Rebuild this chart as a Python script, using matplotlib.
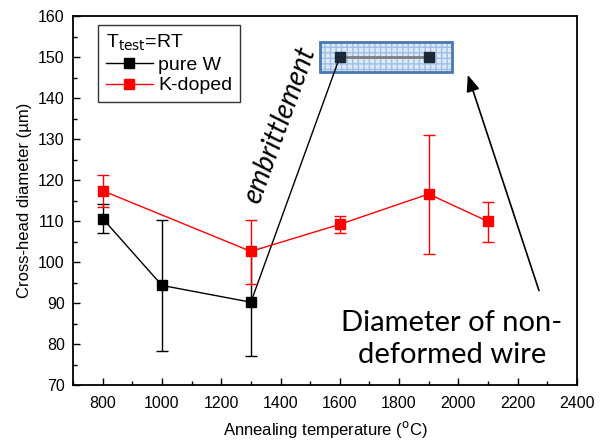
import matplotlib
matplotlib.use("Agg")
import matplotlib.pyplot as plt
from matplotlib.patches import Rectangle
from matplotlib.lines import Line2D
import numpy as np

plt.rcParams['font.family'] = ['Liberation Sans', 'DejaVu Sans']

# pure W
w_temp = [800, 1000, 1300]
w_diam = [110.6, 94.3, 90.2]
w_low = [107.1, 78.3, 77.2]
w_high = [114.2, 110.2, 103.2]

# K-doped W
k_temp = [800, 1300, 1600, 1900, 2100]
k_diam = [117.4, 102.6, 109.2, 116.6, 109.9]
k_low = [113.5, 94.6, 107.1, 101.9, 105.0]
k_high = [121.3, 110.3, 111.3, 131.1, 114.7]

# non-deformed wire diameter
ref_temp = [1600, 1900]
ref_diam = [150, 150]

fig = plt.figure(figsize=(6.02, 4.45), dpi=100)
ax = fig.add_axes([0.1213, 0.1348, 0.837, 0.829])

w_err = [np.array(w_diam) - np.array(w_low), np.array(w_high) - np.array(w_diam)]
k_err = [np.array(k_diam) - np.array(k_low), np.array(k_high) - np.array(k_diam)]

ax.errorbar(w_temp, w_diam, yerr=w_err, color='black', lw=1, marker='s', ms=7,
            capsize=4, elinewidth=1, capthick=1, zorder=3)
ax.errorbar(k_temp, k_diam, yerr=k_err, color='red', lw=1, marker='s', ms=7,
            capsize=4, elinewidth=1, capthick=1, zorder=4)

# inset box for the original wire diameter
ax.add_patch(Rectangle((1533, 146.3), 446, 7.3, facecolor='#dce9f8', edgecolor='#9fbfe6',
                       hatch='+++', lw=0, zorder=2))
ax.add_patch(Rectangle((1533, 146.3), 446, 7.3, facecolor='none', edgecolor='#4a78b0',
                       lw=2, zorder=2.5))
ax.plot(ref_temp, ref_diam, color='#7f7f7f', lw=2, zorder=3)
ax.plot(ref_temp, ref_diam, ls='none', marker='s', ms=6.5, color='#1b2838', zorder=3.5)

# connector from the brittle pure W point to the box
ax.plot([w_temp[2], ref_temp[0]], [w_diam[2], ref_diam[0]], color='black', lw=1, zorder=3)
ax.annotate('', xy=(2029, 146.3), xytext=(2275, 92.4),
            arrowprops=dict(arrowstyle='-|>,head_length=1.0,head_width=0.4',
                            color='black', lw=1.2))

ax.text(1398, 133.5, 'embrittlement', rotation=70, fontsize=20, style='italic',
        family=['Lato', 'DejaVu Sans'], ha='center', va='center')
ax.text(1978, 81.3, 'Diameter of non-\ndeformed wire', fontsize=21,
        family=['Lato', 'DejaVu Sans'], ha='center', va='center', linespacing=1.3)

ax.set_xlim(700, 2400)
ax.set_ylim(70, 160)
ax.set_xticks(range(800, 2401, 200))
ax.set_xticks(range(700, 2401, 100), minor=True)
ax.set_yticks(range(70, 161, 10))
ax.set_yticks(range(70, 161, 5), minor=True)
ax.tick_params(which='both', direction='in', labelsize=11.5, width=1)
ax.tick_params(which='major', length=5)
ax.tick_params(which='minor', length=3)
ax.tick_params(axis='x', pad=8)
ax.tick_params(axis='y', pad=6)
for s in ax.spines.values():
    s.set_linewidth(1.3)

ax.set_xlabel('Annealing temperature ($^{\\mathrm{o}}$C)', fontsize=12, labelpad=6)
ax.set_ylabel('Cross-head diameter (\u00b5m)', fontsize=12, labelpad=4)

handles = [Line2D([], [], color='black', lw=1, marker='s', ms=7),
           Line2D([], [], color='red', lw=1, marker='s', ms=7)]
leg = ax.legend(handles, ['pure W', 'K-doped'], loc='upper left',
                bbox_to_anchor=(0.05, 0.975), title='T$_{\\mathrm{test}}$=RT',
                fontsize=14, title_fontsize=14, frameon=True, fancybox=False,
                edgecolor='black', handlelength=2.4, borderpad=0.4, labelspacing=0.15,
                handletextpad=0.3, alignment='left', borderaxespad=0)
leg.get_frame().set_linewidth(1)

fig.savefig('out.png', dpi=100)
